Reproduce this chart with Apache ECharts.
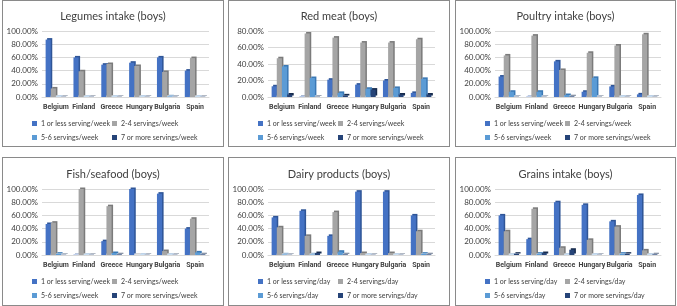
<!DOCTYPE html>
<html>
<head>
<meta charset="utf-8">
<script src="https://cdn.jsdelivr.net/npm/echarts/dist/echarts.min.js"></script>
<style>
html,body{margin:0;padding:0;background:#fff;width:677px;height:306px;overflow:hidden;}
.p{position:absolute;border:1px solid #8a8a8a;box-sizing:border-box;background:#fff;}
</style>
</head>
<body>
<div id="c0" class="p" style="left:2px;top:0px;width:222px;height:147px"></div>
<div id="c1" class="p" style="left:228px;top:0px;width:222px;height:147px"></div>
<div id="c2" class="p" style="left:455px;top:0px;width:221px;height:147px"></div>
<div id="c3" class="p" style="left:2px;top:157px;width:222px;height:149px"></div>
<div id="c4" class="p" style="left:228px;top:157px;width:222px;height:149px"></div>
<div id="c5" class="p" style="left:455px;top:157px;width:221px;height:149px"></div>
<script>
// ---- data ----
const categories = ['Belgium', 'Finland', 'Greece', 'Hungary', 'Bulgaria', 'Spain'];
const weekNames = ['1 or less serving/week', '2-4 servings/week', '5-6 servings/week', '7 or more servings/week'];
const dayNames = ['1 or less serving/day', '2-4 servings/day', '5-6 servings/day', '7 or more servings/day'];
const titles = ['Legumes intake (boys)', 'Red meat (boys)', 'Poultry intake (boys)', 'Fish/seafood (boys)', 'Dairy products (boys)', 'Grains intake (boys)'];
const yMax = [100, 80, 100, 100, 100, 100];

const legumesValues = [
  [87, 60, 49, 52, 60, 40],
  [13, 39, 50, 47, 38, 59],
  [0.5, 0.5, 0.5, 0.5, 1, 0.5],
  [0.5, 0.5, 0.5, 0.5, 0.5, 0.5]
];
const redMeatValues = [
  [13, 0.5, 21, 15, 20, 5],
  [47, 77, 72, 66, 66, 70],
  [37, 23, 5, 10, 11, 22],
  [3, 0.5, 2, 9, 3, 3]
];
const poultryValues = [
  [31, 0.5, 54, 8, 16, 4],
  [63, 93, 41, 67, 78, 95],
  [8, 8, 3, 29, 0.5, 0.5],
  [0.5, 0.5, 1, 0.5, 0.5, 0.5]
];
const fishValues = [
  [47, 0.5, 21, 100, 93, 40],
  [49, 100, 74, 0.5, 6, 55],
  [2, 0.5, 3, 0.5, 0.5, 4],
  [0.5, 0.5, 1, 0.5, 0.5, 1]
];
const dairyValues = [
  [57, 67, 29, 96, 96, 60],
  [42, 29, 65, 3, 3, 36],
  [1, 1, 5, 0.5, 0.5, 2],
  [0.5, 3, 1, 0.5, 0.5, 1]
];
const grainsValues = [
  [60, 24, 80, 76, 51, 91],
  [36, 70, 11, 23, 43, 7],
  [0.5, 2, 0.5, 0.5, 2, 0.5],
  [2, 3, 8, 0.5, 2, 1]
];

// ---- styles ----
const colors = ['#4472C4', '#A5A5A5', '#5B9BD5', '#264478'];
const sideColors = ['#2f5597', '#7b7b7b', '#3a78b5', '#172b4d'];
const font = 'Lato, "Open Sans", sans-serif';
const catFont = 'Roboto, Lato, sans-serif';

const panels = [
  {values: legumesValues, names: weekNames, row: 0},
  {values: redMeatValues, names: weekNames, row: 0},
  {values: poultryValues, names: weekNames, row: 0},
  {values: fishValues, names: weekNames, row: 1},
  {values: dairyValues, names: dayNames, row: 1},
  {values: grainsValues, names: dayNames, row: 1}
];

panels.forEach(function (p, i) {
  const chart = echarts.init(document.getElementById('c' + i), null, {renderer: 'canvas'});
  const r = p.row;
  const gridTop = r === 0 ? 30 : 31;
  const gridBottom = r === 0 ? 49 : 50;
  const legTop = r === 0 ? 118 : 119;
  const legendStyle = {
    orient: 'vertical', top: legTop, padding: 0, height: 40, itemGap: 5, itemWidth: 5, itemHeight: 5,
    icon: 'rect', textStyle: {fontSize: 7, lineHeight: 9, color: '#404040', fontFamily: font, padding: [0, 0, 0, -1]}
  };
  chart.setOption({
    animation: false,
    title: {
      text: titles[i], left: 'center', top: r === 0 ? 5 : 6,
      textStyle: {fontSize: 11, fontWeight: 'normal', color: '#404040', fontFamily: font}
    },
    legend: [
      Object.assign({left: 29, data: [p.names[0], p.names[2]]}, legendStyle),
      Object.assign({left: 109, data: [p.names[1], p.names[3]]}, legendStyle)
    ],
    grid: {left: 39, right: 14, top: gridTop, bottom: gridBottom},
    xAxis: {
      type: 'category', data: categories,
      axisLine: {show: true, lineStyle: {color: '#d9d9d9'}},
      axisTick: {show: false},
      axisLabel: {fontSize: 7, fontWeight: 'bold', color: '#404040', fontFamily: catFont, margin: 7, interval: 0}
    },
    yAxis: {
      type: 'value', min: 0, max: yMax[i], interval: 20,
      axisLine: {show: false}, axisTick: {show: false},
      splitLine: {lineStyle: {color: '#d9d9d9', width: 1}},
      axisLabel: {fontSize: 8, color: '#404040', fontFamily: font, margin: 4,
        formatter: function (v) { return v.toFixed(2) + '%'; }}
    },
    series: p.values.map(function (vals, k) {
      return {
        type: 'bar', name: p.names[k], data: vals,
        barGap: '0%', barCategoryGap: '26%',
        itemStyle: {color: colors[k], shadowColor: sideColors[k], shadowBlur: 0, shadowOffsetX: 1.5, shadowOffsetY: -1.5}
      };
    })
  });
});
</script>
</body>
</html>
